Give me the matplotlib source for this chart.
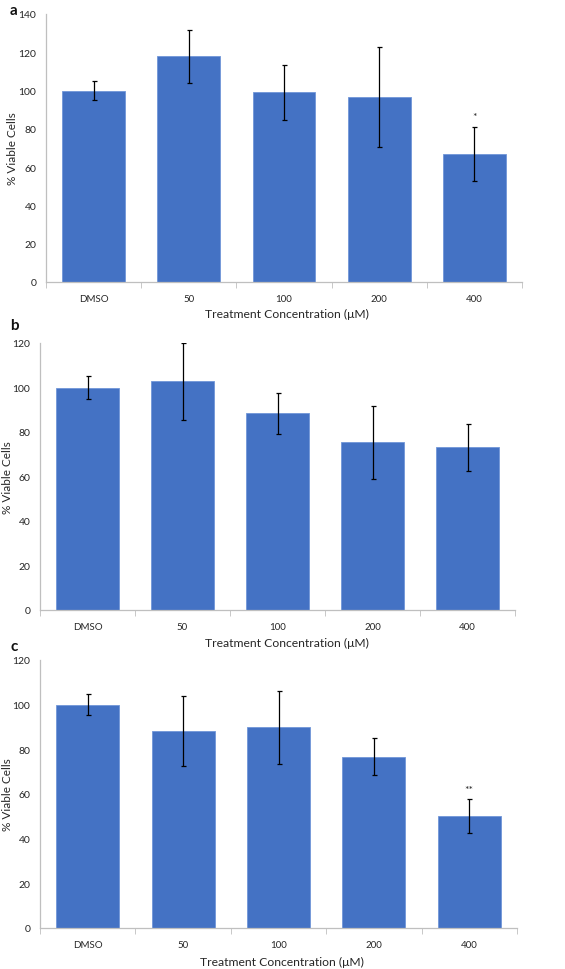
import matplotlib
matplotlib.use("Agg")
import numpy as np
from matplotlib import pyplot as plt

plt.rcParams['font.family'] = ['Lato', 'DejaVu Sans']

categories = ["DMSO", "50", "100", "200", "400"]

# panel a
viable_a = [100, 118, 99, 96.6, 67]
err_a = [4.8, 13.8, 14.4, 26, 14.2]
# panel b
viable_b = [100, 102.8, 88.4, 75.4, 73.1]
err_b = [5, 17.4, 9.3, 16.5, 10.5]
# panel c
viable_c = [100, 88.3, 89.8, 76.7, 50.2]
err_c = [4.8, 15.7, 16.4, 8.2, 7.5]

panels = [
    ("a", viable_a, err_a, 140, {4: "*"}),
    ("b", viable_b, err_b, 120, {}),
    ("c", viable_c, err_c, 120, {4: "**"}),
]

# layout in pixels
boxes = [(46, 522, 15, 283), (40, 515, 344, 611), (40, 517, 661, 929)]  # left, right, top, bottom
label_pos = [(13, 11), (14, 326), (14, 647)]
ylabel_x = [12.5, 7.5, 7.5]
xlabel_pos = [(287, 314), (287, 643), (282, 962)]

W, H = 565, 970
fig = plt.figure(figsize=(W / 100, H / 100), dpi=100)

bar_color = "#4472C4"
grey = "#BFBFBF"
txt = "#262626"

for k, (name, vals, errs, ymax, stars) in enumerate(panels):
    l, r, t, b = boxes[k]
    ax = fig.add_axes([l / W, 1 - b / H, (r - l) / W, (b - t) / H])
    x = np.arange(len(categories))
    ax.bar(x, vals, width=0.66, color=bar_color, edgecolor="#7096d8", linewidth=0.6, zorder=2)
    ax.errorbar(x, vals, yerr=errs, fmt="none", ecolor="black", elinewidth=0.9,
                capsize=1.8, capthick=0.9, zorder=3)
    for i, s in stars.items():
        ax.annotate(s, (x[i], vals[i] + errs[i]), xytext=(0, 7), textcoords="offset points",
                    ha="center", va="center", fontsize=7.5, color=txt)

    ax.set_xlim(-0.5, len(categories) - 0.5)
    ax.set_ylim(0, ymax)
    ax.set_yticks(np.arange(0, ymax + 1, 20))
    ax.set_xticks(x)
    ax.set_xticklabels(categories)
    ax.set_xticks(np.arange(-0.5, len(categories), 1), minor=True)
    ax.tick_params(axis="x", which="major", length=0, pad=9, labelsize=7, colors=txt)
    ax.tick_params(axis="x", which="minor", length=4, color=grey, direction="out")
    ax.tick_params(axis="y", length=0, pad=7, labelsize=7.5, colors=txt)
    for side in ["top", "right"]:
        ax.spines[side].set_visible(False)
    for side in ["left", "bottom"]:
        ax.spines[side].set_color(grey)
        ax.spines[side].set_linewidth(0.9)

    ax.set_ylabel("% Viable Cells", fontsize=8.5, color=txt, va="center")
    ax.yaxis.set_label_coords(ylabel_x[k] / W, 1 - (t + b) / 2 / H, transform=fig.transFigure)
    ax.set_xlabel("Treatment Concentration (μM)", fontsize=8.7, color=txt, va="center")
    xl, yl = xlabel_pos[k]
    ax.xaxis.set_label_coords(xl / W, 1 - yl / H, transform=fig.transFigure)

    lx, ly = label_pos[k]
    fig.text(lx / W, 1 - ly / H, name, fontsize=11, fontweight="bold",
             ha="center", va="center", color="#111111")

fig.savefig("out.png", dpi=100)
